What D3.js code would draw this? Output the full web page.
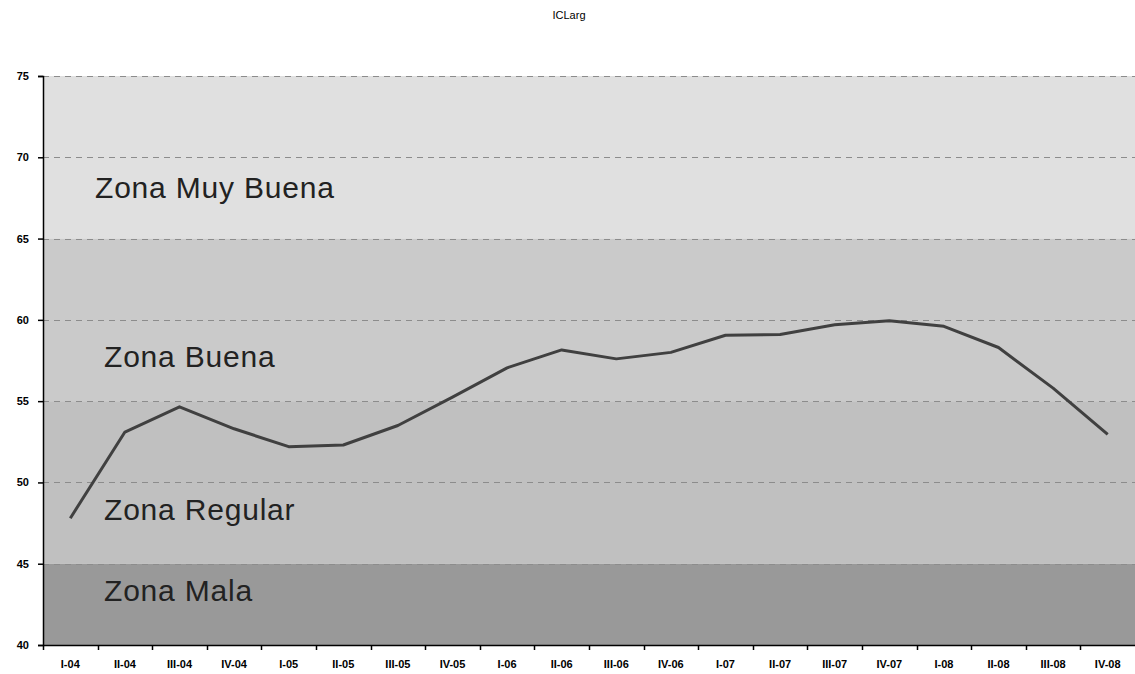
<!DOCTYPE html>
<meta charset="utf-8">
<style>
body { margin: 0; background: #fff; }
.axis text { font-family: "Liberation Sans", Arial, sans-serif; font-size: 11px; font-weight: bold; fill: #000; }
.zone { font-family: "Liberation Sans", Arial, sans-serif; font-size: 30px; letter-spacing: 0.8px; fill: #222; }
.title { font-family: "Liberation Sans", Arial, sans-serif; font-size: 11px; fill: #000; }
</style>
<body>
<svg width="1135" height="674"></svg>
</body>
<script src="https://cdn.jsdelivr.net/npm/d3@7"></script>
<script>

var quarters = ["I-04","II-04","III-04","IV-04","I-05","II-05","III-05","IV-05",
                "I-06","II-06","III-06","IV-06","I-07","II-07","III-07","IV-07",
                "I-08","II-08","III-08","IV-08"];
var iclarg = [47.8, 53.1, 54.65, 53.3, 52.2, 52.3, 53.5, 55.25,
              57.05, 58.15, 57.6, 58.0, 59.05, 59.1, 59.7, 59.95,
              59.6, 58.3, 55.8, 52.95];
var yTicks = [40, 45, 50, 55, 60, 65, 70, 75];
var zones = [
  {name: "Zona Muy Buena", from: 65, to: 75, label: 67.5, fill: "#e0e0e0"},
  {name: "Zona Buena", from: 55, to: 65, label: 57.1, fill: "#cacaca"},
  {name: "Zona Regular", from: 45, to: 55, label: 47.7, fill: "#c0c0c0"},
  {name: "Zona Mala", from: 40, to: 45, label: 42.7, fill: "#999999"}
];
var zoneLabelX = [95, 104, 104, 104];

var svg = d3.select("svg"),
    mLeft = 43, mRight = 1135, mTop = 76, mBottom = 645;

var x = d3.scaleBand().domain(quarters).range([mLeft, mRight]).padding(0);
var y = d3.scaleLinear().domain([40, 75]).range([mBottom, mTop]);

svg.append("text")
    .attr("class", "title")
    .attr("x", 569)
    .attr("y", 19)
    .attr("text-anchor", "middle")
    .text("ICLarg");

// background bands
svg.append("g").selectAll("rect")
  .data(zones)
  .enter().append("rect")
    .attr("x", mLeft)
    .attr("width", mRight - mLeft)
    .attr("y", function(d) { return y(d.to); })
    .attr("height", function(d) { return y(d.from) - y(d.to); })
    .attr("fill", function(d) { return d.fill; });

// dashed grid
svg.append("g").selectAll("line")
  .data(yTicks.slice(1))
  .enter().append("line")
    .attr("x1", mLeft).attr("x2", mRight)
    .attr("y1", function(d) { return Math.round(y(d)) + 0.5; })
    .attr("y2", function(d) { return Math.round(y(d)) + 0.5; })
    .attr("stroke", "#8c8c8c")
    .attr("stroke-dasharray", "6,5");

svg.append("g").selectAll("text")
  .data(zones)
  .enter().append("text")
    .attr("class", "zone")
    .attr("x", function(d, i) { return zoneLabelX[i]; })
    .attr("y", function(d) { return y(d.label); })
    .text(function(d) { return d.name; });

var line = d3.line()
    .x(function(d, i) { return x(quarters[i]) + x.bandwidth() / 2; })
    .y(function(d) { return y(d); });

svg.append("path")
    .datum(iclarg)
    .attr("fill", "none")
    .attr("stroke", "#404040")
    .attr("stroke-width", 3)
    .attr("stroke-linejoin", "round")
    .attr("d", line);

svg.append("g")
    .attr("class", "axis")
    .attr("transform", "translate(" + mLeft + ",0)")
    .call(d3.axisLeft(y).tickValues(yTicks).tickSize(5).tickPadding(9))
    .call(function(g) { g.selectAll("line, path").attr("stroke", "#000").attr("stroke-width", 1.5); });

var xAxis = svg.append("g")
    .attr("class", "axis")
    .attr("transform", "translate(0," + mBottom + ")")
    .call(d3.axisBottom(x).tickSize(0).tickPadding(15));
xAxis.select(".domain").attr("stroke", "#000").attr("stroke-width", 1.5);

// tick marks at category boundaries
xAxis.append("g").selectAll("line")
  .data(quarters)
  .enter().append("line")
    .attr("x1", function(d) { return Math.round(x(d)) + 0.5; })
    .attr("x2", function(d) { return Math.round(x(d)) + 0.5; })
    .attr("y1", 0).attr("y2", 5)
    .attr("stroke", "#000")
    .attr("stroke-width", 1.5);

</script>
